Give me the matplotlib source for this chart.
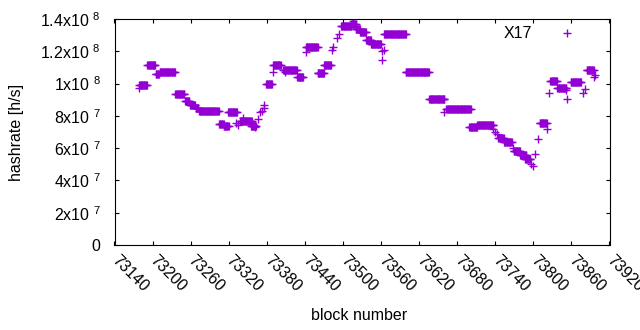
import numpy as np
import matplotlib
matplotlib.use("Agg")
import matplotlib.pyplot as plt

plt.rcParams['font.family'] = ['Liberation Sans', 'DejaVu Sans']
plt.rcParams['mathtext.fontset'] = 'custom'
plt.rcParams['mathtext.rm'] = 'Liberation Sans'
plt.rcParams['mathtext.it'] = 'Liberation Sans'

# runs of blocks with constant hashrate (units of 1e7 h/s)
run_start = [73179, 73192, 73205, 73211, 73236, 73251, 73259, 73268, 73273, 73305,
             73312, 73319, 73338, 73355, 73379, 73390, 73406, 73428, 73442, 73460,
             73470, 73497, 73513, 73520, 73527, 73537, 73544, 73565, 73599, 73636,
             73663, 73699, 73712, 73745, 73754, 73769, 73779, 73787, 73810, 73827,
             73838, 73859, 73884]
run_end = [73191, 73204, 73210, 73235, 73250, 73258, 73267, 73272, 73304, 73312,
           73320, 73333, 73356, 73363, 73388, 73402, 73427, 73437, 73460, 73470,
           73481, 73513, 73520, 73527, 73536, 73544, 73560, 73599, 73635, 73660,
           73701, 73711, 73737, 73753, 73766, 73779, 73789, 73795, 73821, 73837,
           73852, 73875, 73895]
run_rate = [9.89, 11.12, 10.57, 10.69, 9.33, 8.90, 8.65, 8.50, 8.33, 7.48,
            7.40, 8.21, 7.66, 7.37, 9.95, 11.12, 10.83, 10.38, 12.24, 10.63,
            11.12, 13.54, 13.68, 13.37, 13.17, 12.72, 12.48, 13.10, 10.69, 9.02,
            8.40, 7.32, 7.43, 6.60, 6.36, 5.84, 5.59, 5.34, 7.53, 10.13,
            9.74, 10.07, 10.81]

# single blocks
pt_block = [73179, 73331, 73334, 73342, 73360, 73362, 73366, 73369, 73372, 73375,
            73376, 73389, 73409, 73441, 73482, 73485, 73490, 73493, 73516, 73561,
            73564, 73561, 73660, 73737, 73740, 73743, 73768, 73797, 73799, 73803,
            73807, 73822, 73824, 73851, 73853, 73879, 73882, 73896, 73897]
pt_rate = [9.72, 7.57, 7.43, 7.88, 7.43, 7.30, 7.80, 8.21, 8.30, 8.50,
           8.67, 10.73, 10.70, 11.93, 12.07, 12.28, 12.80, 13.10, 13.87, 12.03,
           12.07, 11.48, 8.25, 7.20, 7.01, 6.85, 5.99, 5.02, 4.88, 5.63,
           6.54, 7.20, 9.39, 9.60, 9.02, 9.39, 9.64, 10.38, 10.52]

yticks = [0, 2e7, 4e7, 6e7, 8e7, 1e8, 1.2e8, 1.4e8]
ytick_labels = ['0', '2x10 $^{7}$', '4x10 $^{7}$', '6x10 $^{7}$', '8x10 $^{7}$',
                '1x10 $^{8}$', '1.2x10 $^{8}$', '1.4x10 $^{8}$']
xticks = list(range(73140, 73921, 60))

blocks = []
rates = []
for s, e, r in zip(run_start, run_end, run_rate):
    b = np.arange(s, e + 1)
    blocks.extend(b)
    rates.extend([r * 1e7] * len(b))
blocks.extend(pt_block)
rates.extend([r * 1e7 for r in pt_rate])

fig = plt.figure(figsize=(6.4, 3.3), dpi=100)
ax = fig.add_axes([114.5 / 640, 1 - 245 / 330, 495 / 640, 226 / 330])

ax.plot(blocks, rates, linestyle='none', marker='+', color='#9400D3',
        markersize=5.2, markeredgewidth=1.0, label='X17')

ax.set_xlim(73140, 73920)
ax.set_ylim(0, 1.4e8)
ax.set_xticks(xticks)
ax.set_xticklabels([str(x) for x in xticks], rotation=-45, ha='left',
                   va='center', rotation_mode='anchor', fontsize=11.5)
ax.set_yticks(yticks)
ax.set_yticklabels(ytick_labels, fontsize=11.5)
ax.tick_params(direction='in', length=3, width=0.8, top=True, right=True,
               color='black')
ax.tick_params(axis='x', pad=9)
ax.tick_params(axis='y', pad=10)
for sp in ax.spines.values():
    sp.set_linewidth(0.8)

fig.text(17 / 640, 1 - 132 / 330, 'hashrate [h/s]', rotation=90,
         ha='center', va='center', fontsize=11.5)
fig.text(359 / 640, 1 - 316 / 330, 'block number', ha='center',
         va='center', fontsize=11.5)

ax.legend(loc='center right', bbox_to_anchor=(0.9756, 0.934),
          markerfirst=False, frameon=False, fontsize=11.5,
          handlelength=3, handletextpad=0.7, borderaxespad=0)

fig.savefig('out.png', dpi=100)
